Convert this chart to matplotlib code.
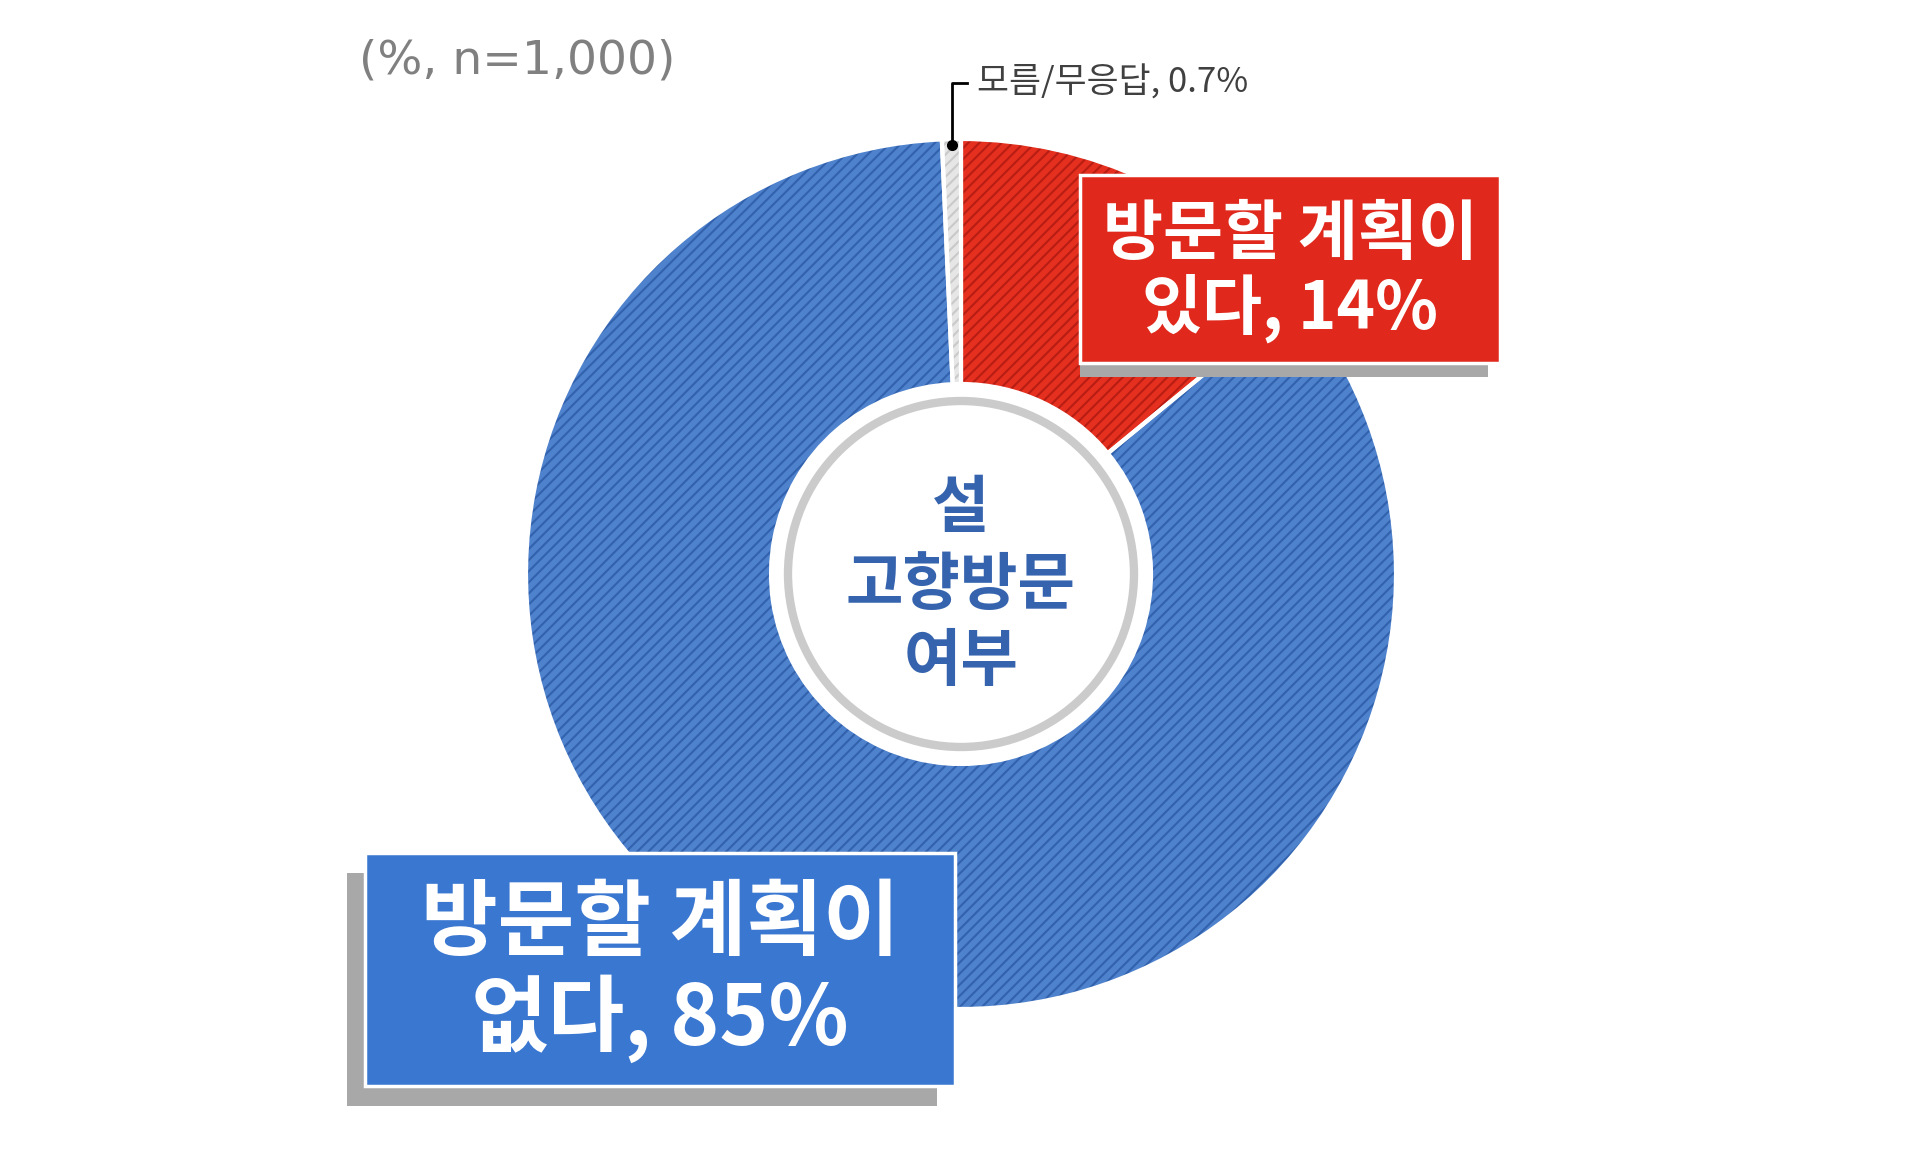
import matplotlib.pyplot as plt
from matplotlib.patches import Rectangle, Circle, Wedge
import numpy as np

plt.rcParams['font.family'] = ['Noto Sans CJK KR', 'DejaVu Sans']
plt.rcParams['hatch.linewidth'] = 1.5

# data
labels = ['방문할 계획이\n있다, 14%', '방문할 계획이\n없다, 85%', '모름/무응답, 0.7%']
values = [14, 85, 0.7]
face_colors = ['#e5301f', '#4f82cc', '#e6e6e6']
hatch_colors = ['#b81d13', '#3262ad', '#c9c9c9']
center_lines = ['설', '고향방문', '여부']
note = '(%, n=1,000)'

W, H = 1920, 1150
fig = plt.figure(figsize=(19.2, 11.5), dpi=100)
ax = fig.add_axes([0, 0, 1, 1])


def iy(y):
    # image row -> plot y
    return H - y


cx, cy, R = 961, iy(574), 435
width = 245

wedges, _ = ax.pie(values, colors=face_colors, startangle=90, counterclock=False,
                   center=(cx, cy), radius=R, frame=True,
                   wedgeprops=dict(width=width, linewidth=0, hatch='///'))
for w, hc in zip(wedges, hatch_colors):
    w.set_edgecolor(hc)
    w.set_linewidth(0)
    # white separators
    ax.add_patch(Wedge(w.center, w.r, w.theta1, w.theta2, width=w.width,
                       fill=False, edgecolor='white', linewidth=3, zorder=3))

# center badge
ax.add_patch(Circle((cx, cy), 190, facecolor='white', edgecolor='none', zorder=4))
ax.add_patch(Circle((cx, cy), 173, facecolor='white', edgecolor='#cbcbcb',
                    linewidth=6, zorder=5))
for txt, y in zip(center_lines, [508, 585, 661]):
    ax.text(cx, iy(y), txt, ha='center', va='center', fontsize=45,
            fontweight='bold', color='#3563ad', zorder=6)

# note
ax.text(359, iy(61), note, ha='left', va='center', fontsize=34, color='#808080',
        family='DejaVu Sans')

# 0.7% leader
small = wedges[2]
mid = np.deg2rad((small.theta1 + small.theta2) / 2)
dx, dy = cx + (R - 6) * np.cos(mid), cy + (R - 6) * np.sin(mid)
ax.plot([dx, dx, dx + 15], [dy, iy(83), iy(83)], color='black', lw=2, zorder=7)
ax.plot(dx, dy, 'o', color='black', ms=7, zorder=7)
ax.text(dx + 25, iy(83), labels[2], ha='left', va='center', fontsize=25,
        fontweight='medium', color='#404040', zorder=7)

# label boxes: box x0, y0, x1, y1 and shadow x0, x1, drop
boxes = [
    (1080, 175, 1500, 363, (1080, 1488, 14), '#e0291c'),
    (365, 853, 955, 1086, (347, 937, 20), '#3a77d0'),
]
fs = [47, 60]
for i, (x0, y0, x1, y1, sh, col) in enumerate(boxes):
    ax.add_patch(Rectangle((sh[0], iy(y1) - sh[2]), sh[1] - sh[0], y1 - y0,
                           facecolor='#a8a8a8', edgecolor='none', zorder=8))
    ax.add_patch(Rectangle((x0, iy(y1)), x1 - x0, y1 - y0, facecolor=col,
                           edgecolor='white', linewidth=2.5, zorder=9))
    ax.text((x0 + x1) / 2, iy((y0 + y1) / 2 + 3), labels[i], ha='center',
            va='center', fontsize=fs[i], fontweight='bold', color='white',
            linespacing=1.1, zorder=10)

ax.set_xlim(0, W)
ax.set_ylim(0, H)
ax.set_aspect('equal')
ax.axis('off')

fig.savefig('out.png', dpi=100, facecolor='white')
